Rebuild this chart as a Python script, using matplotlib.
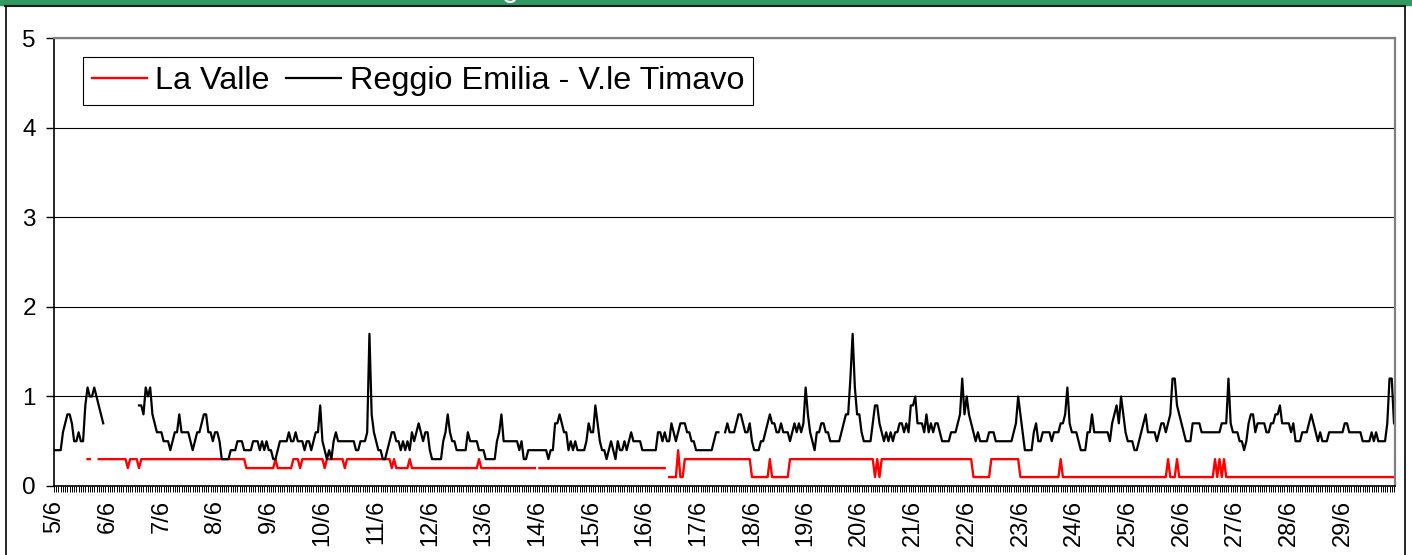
import matplotlib
matplotlib.use('Agg')
import matplotlib.pyplot as plt
import numpy as np
from matplotlib.patches import Rectangle
from matplotlib.lines import Line2D

plt.rcParams['font.family'] = ['Liberation Sans', 'DejaVu Sans']

N = None

# valori orari dal 5/6 al 29/6 (24 valori per giorno)
reggio = [
    .4, .4, .4, .4, .6, .7, .8, .8, .7, .5, .5, .6, .5, .5, .9, 1.1, 1.0, 1.0, 1.1, 1.0, .9, .8, .7, N,   # 5/6
    N, N, N, N, N, N, N, N, N, N, N, N, N, N, .9, .9, .8, 1.1, 1.0, 1.1, .8, .7, .6, .6,              # 6/6
    .6, .5, .5, .5, .4, .5, .6, .6, .8, .6, .6, .6, .6, .5, .4, .5, .6, .6, .7, .8, .8, .6, .6, .5,   # 7/6
    .6, .6, .5, .3, .3, .3, .3, .4, .4, .4, .5, .5, .5, .4, .4, .4, .4, .5, .5, .5, .4, .5, .4, .5,   # 8/6
    .4, .4, .3, .3, .4, .5, .5, .5, .5, .6, .5, .5, .6, .5, .5, .5, .4, .5, .5, .4, .5, .6, .6, .9,   # 9/6
    .5, .4, .3, .4, .3, .5, .6, .5, .5, .5, .5, .5, .5, .5, .5, .4, .4, .5, .5, .5, .6, 1.7, .8, .6,  # 10/6
    .5, .4, .4, .3, .3, .4, .5, .6, .6, .5, .5, .4, .5, .4, .5, .4, .6, .5, .6, .7, .6, .5, .6, .6,   # 11/6
    .4, .3, .3, .3, .3, .3, .5, .6, .8, .6, .5, .5, .4, .4, .4, .4, .4, .6, .5, .5, .5, .5, .4, .4,   # 12/6
    .4, .3, .3, .3, .3, .3, .5, .6, .8, .5, .5, .5, .5, .5, .5, .5, .4, .5, .3, .3, .4, .4, .4, .4,   # 13/6
    .4, .4, .4, .4, .4, .3, .4, .4, .7, .7, .8, .7, .6, .6, .4, .5, .4, .5, .4, .4, .4, .4, .5, .7,   # 14/6
    .6, .6, .9, .7, .5, .4, .4, .3, .4, .5, .4, .3, .5, .4, .4, .5, .4, .5, .6, .5, .5, .5, .5, .4,   # 15/6
    .4, .4, .4, .4, .4, .4, .6, .6, .5, .6, .5, .5, .7, .6, .5, .6, .7, .7, .7, .6, .6, .5, .5, .4,   # 16/6
    .4, .4, .4, .4, .4, .4, .4, .5, .6, .6, N, N, .6, .7, .6, .6, .6, .7, .8, .8, .7, .6, .6, .7,     # 17/6
    .5, .4, .4, .4, .5, .5, .6, .7, .8, .7, .7, .6, .6, .7, .6, .6, .6, .5, .6, .7, .6, .7, .6, .7,   # 18/6
    1.1, .8, .6, .5, .4, .6, .6, .7, .7, .6, .6, .5, .5, .5, .5, .5, .6, .7, .8, .8, 1.2, 1.7, 1.1, .8,  # 19/6
    .8, .6, .5, .5, .5, .5, .7, .9, .9, .7, .6, .5, .6, .5, .6, .5, .6, .6, .7, .7, .6, .7, .6, .9,   # 20/6
    .9, 1.0, .7, .7, .7, .6, .8, .6, .7, .6, .7, .7, .6, .5, .5, .5, .5, .6, .6, .6, .7, .8, 1.2, .8,  # 21/6
    1.0, .8, .7, .6, .5, .6, .5, .5, .5, .5, .6, .6, .6, .5, .5, .5, .5, .5, .5, .5, .5, .6, .7, 1.0,  # 22/6
    .8, .6, .4, .4, .4, .4, .6, .7, .5, .5, .6, .6, .6, .6, .5, .6, .6, .6, .7, .7, .8, 1.1, .7, .6,  # 23/6
    .6, .6, .5, .4, .4, .4, .6, .6, .8, .6, .6, .6, .6, .6, .6, .6, .5, .7, .8, .9, .7, 1.0, .8, .6,  # 24/6
    .5, .5, .5, .4, .4, .5, .6, .7, .8, .6, .6, .6, .6, .5, .6, .7, .7, .6, .7, .8, 1.2, 1.2, .9, .8,  # 25/6
    .7, .6, .5, .5, .5, .7, .7, .7, .7, .6, .6, .6, .6, .6, .6, .6, .6, .6, .7, .7, .7, 1.2, .7, .6,  # 26/6
    .6, .6, .5, .5, .4, .5, .7, .8, .8, .6, .7, .7, .7, .7, .6, .6, .7, .7, .8, .8, .9, .7, .7, .7,   # 27/6
    .7, .6, .7, .5, .5, .5, .6, .6, .6, .7, .8, .7, .6, .5, .6, .5, .5, .5, .6, .6, .6, .6, .6, .6,   # 28/6
    .6, .7, .7, .6, .6, .6, .6, .6, .6, .5, .5, .5, .5, .6, .5, .6, .5, .5, .5, .5, .7, 1.2, 1.2, .7,  # 29/6
]

la_valle = [
    N, N, N, N, N, N, N, N, N, N, N, N, N, N, N, .3, .3, N, N, N, .3, .3, .3, .3,                    # 5/6
    .3, .3, .3, .3, .3, .3, .3, .3, .3, .2, .3, .3, .3, .3, .2, .3, .3, .3, .3, .3, .3, .3, .3, .3,   # 6/6
    .3, .3, .3, .3, .3, .3, .3, .3, .3, .3, .3, .3, .3, .3, .3, .3, .3, .3, .3, .3, .3, .3, .3, .3,   # 7/6
    .3, .3, .3, .3, .3, .3, .3, .3, .3, .3, .3, .3, .3, .3, .2, .2, .2, .2, .2, .2, .2, .2, .2, .2,   # 8/6
    .2, .2, .2, .3, .2, .2, .2, .2, .2, .2, .2, .3, .3, .3, .2, .3, .3, .3, .3, .3, .3, .3, .3, .3,   # 9/6
    .3, .2, .3, .3, .3, .3, .3, .3, .3, .3, .2, .3, .3, .3, .3, .3, .3, .3, .3, .3, .3, .3, .3, .3,   # 10/6
    .3, .3, .3, .3, .3, .3, .3, .2, .3, .2, .2, .2, .2, .2, .2, .3, .2, .2, .2, .2, .2, .2, .2, .2,   # 11/6
    .2, .2, .2, .2, .2, .2, .2, .2, .2, .2, .2, .2, .2, .2, .2, .2, .2, .2, .2, .2, .2, .2, .3, .2,   # 12/6
    .2, .2, .2, .2, .2, .2, .2, .2, .2, .2, .2, .2, .2, .2, .2, .2, .2, .2, .2, .2, .2, .2, .2, .2,   # 13/6
    N, .2, .2, .2, .2, .2, .2, .2, .2, .2, .2, .2, .2, .2, .2, .2, .2, .2, .2, .2, .2, .2, .2, .2,    # 14/6
    .2, .2, .2, .2, .2, .2, .2, .2, .2, .2, .2, .2, .2, .2, .2, .2, .2, .2, .2, .2, .2, .2, .2, .2,   # 15/6
    .2, .2, .2, .2, .2, .2, .2, .2, .2, .2, N, .1, .1, .1, .1, .4, .1, .1, .3, .3, .3, .3, .3, .3,    # 16/6
    .3, .3, .3, .3, .3, .3, .3, .3, .3, .3, .3, .3, .3, .3, .3, .3, .3, .3, .3, .3, .3, .3, .3, .3,   # 17/6
    .1, .1, .1, .1, .1, .1, .1, .1, .3, .1, .1, .1, .1, .1, .1, .1, .1, .3, .3, .3, .3, .3, .3, .3,   # 18/6
    .3, .3, .3, .3, .3, .3, .3, .3, .3, .3, .3, .3, .3, .3, .3, .3, .3, .3, .3, .3, .3, .3, .3, .3,   # 19/6
    .3, .3, .3, .3, .3, .3, .3, .1, .3, .1, .3, .3, .3, .3, .3, .3, .3, .3, .3, .3, .3, .3, .3, .3,   # 20/6
    .3, .3, .3, .3, .3, .3, .3, .3, .3, .3, .3, .3, .3, .3, .3, .3, .3, .3, .3, .3, .3, .3, .3, .3,   # 21/6
    .3, .3, .3, .1, .1, .1, .1, .1, .1, .1, .1, .3, .3, .3, .3, .3, .3, .3, .3, .3, .3, .3, .3, .3,   # 22/6
    .1, .1, .1, .1, .1, .1, .1, .1, .1, .1, .1, .1, .1, .1, .1, .1, .1, .1, .3, .1, .1, .1, .1, .1,   # 23/6
    .1, .1, .1, .1, .1, .1, .1, .1, .1, .1, .1, .1, .1, .1, .1, .1, .1, .1, .1, .1, .1, .1, .1, .1,   # 24/6
    .1, .1, .1, .1, .1, .1, .1, .1, .1, .1, .1, .1, .1, .1, .1, .1, .1, .1, .3, .1, .1, .1, .3, .1,   # 25/6
    .1, .1, .1, .1, .1, .1, .1, .1, .1, .1, .1, .1, .1, .1, .1, .3, .1, .3, .1, .3, .1, .1, .1, .1,   # 26/6
    .1, .1, .1, .1, .1, .1, .1, .1, .1, .1, .1, .1, .1, .1, .1, .1, .1, .1, .1, .1, .1, .1, .1, .1,   # 27/6
    .1, .1, .1, .1, .1, .1, .1, .1, .1, .1, .1, .1, .1, .1, .1, .1, .1, .1, .1, .1, .1, .1, .1, .1,   # 28/6
    .1, .1, .1, .1, .1, .1, .1, .1, .1, .1, .1, .1, .1, .1, .1, .1, .1, .1, .1, .1, .1, .1, .1, .1,   # 29/6
]

giorni = ['5/6', '6/6', '7/6', '8/6', '9/6', '10/6', '11/6', '12/6', '13/6', '14/6',
          '15/6', '16/6', '17/6', '18/6', '19/6', '20/6', '21/6', '22/6', '23/6', '24/6',
          '25/6', '26/6', '27/6', '28/6', '29/6']

reggio = np.array(reggio, dtype=float)
la_valle = np.array(la_valle, dtype=float)
ore = np.arange(len(reggio))

W, H = 1412, 555
fig = plt.figure(figsize=(W / 100, H / 100), dpi=100)

# cornice e banda del titolo
fig.patches.append(Rectangle((0, 1 - 4.5 / H), 1, 4.5 / H, transform=fig.transFigure,
                             color='#2f9963', zorder=0))
fig.lines.append(Line2D([5 / W, 1405 / W], [1 - 5.5 / H, 1 - 5.5 / H], transform=fig.transFigure,
                        color='#1b1b1b', lw=1.5))
fig.lines.append(Line2D([5.5 / W, 5.5 / W], [0, 1 - 5.5 / H], transform=fig.transFigure,
                        color='black', lw=1.2))
fig.lines.append(Line2D([1405 / W, 1405 / W], [0, 1 - 5.5 / H], transform=fig.transFigure,
                        color='black', lw=1.2))
fig.text(510 / W, 1 + 3.9 / H, 'g', color='white', fontsize=22, ha='center', va='baseline')

ax = fig.add_axes([54 / W, 1 - 486 / H, (1395 - 54) / W, (486 - 38.3) / H])

ax.plot(ore, la_valle, color='#ff0000', lw=1.7, label='La Valle')
ax.plot(ore, reggio, color='black', lw=1.6, label='Reggio Emilia - V.le Timavo')

ax.set_xlim(0, 599.45)
ax.set_ylim(0, 5)
ax.set_yticks([0, 1, 2, 3, 4, 5])
ax.set_xticks(ore[::24])
ax.set_xticklabels(giorni, rotation=90)
ax.set_xticks(ore, minor=True)

ax.tick_params(axis='y', length=6, width=1, pad=7, labelsize=17.5)
ax.tick_params(axis='x', which='both', length=4, width=0.7, pad=6, labelsize=17)

ax.yaxis.grid(True, color='black', lw=0.8)
ax.set_axisbelow(True)

for s in ['top', 'right']:
    ax.spines[s].set_color('#808080')
    ax.spines[s].set_linewidth(1.6)
for s in ['left', 'bottom']:
    ax.spines[s].set_color('black')
    ax.spines[s].set_linewidth(1.2)

leg = ax.legend(loc='upper left', bbox_to_anchor=(0.0216, 0.958), ncol=2, fontsize=23.3,
                frameon=True, fancybox=False, edgecolor='black', framealpha=1,
                borderaxespad=0, borderpad=0.28, handlelength=1.7, handletextpad=0.25,
                columnspacing=0.52)
leg.get_frame().set_linewidth(0.8)

fig.savefig('out.png', dpi=100)
